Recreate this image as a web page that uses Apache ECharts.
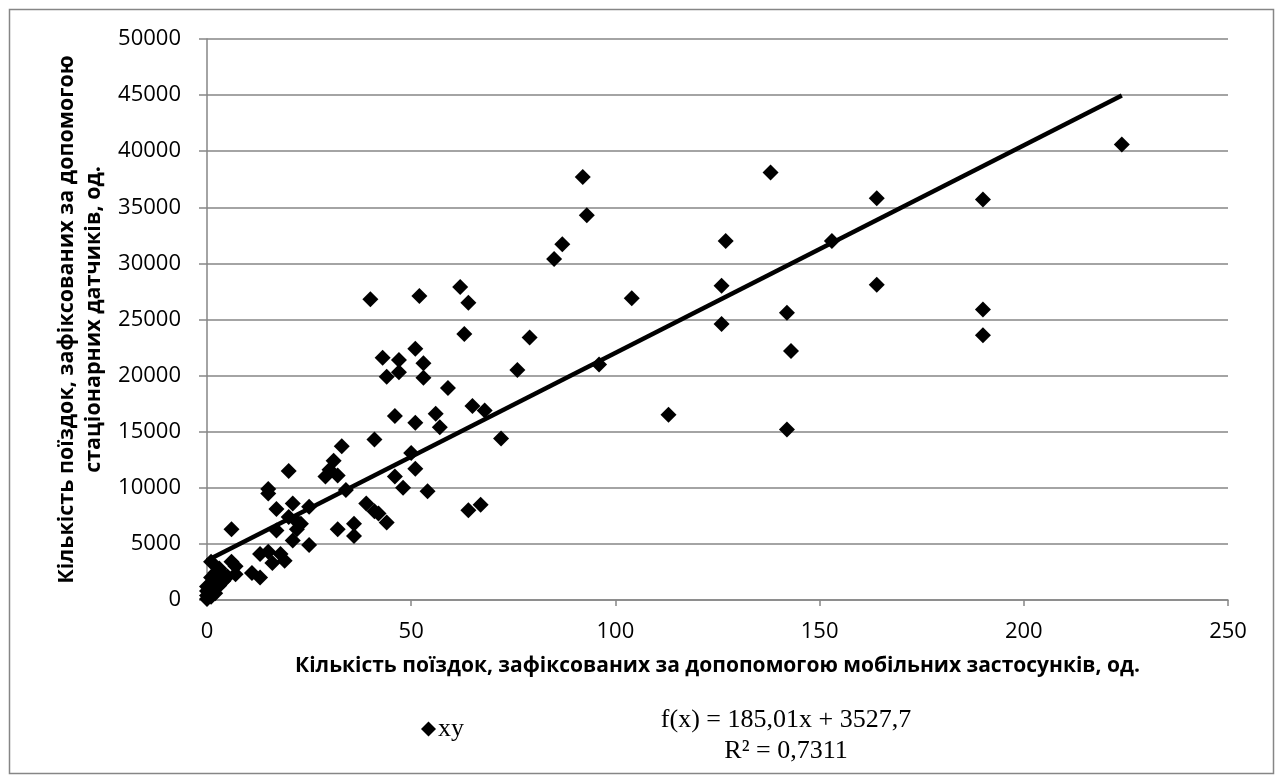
<!DOCTYPE html>
<html>
<head>
<meta charset="utf-8">
<script src="https://cdn.jsdelivr.net/npm/echarts@6/dist/echarts.min.js"></script>
<style>
  html, body { margin: 0; padding: 0; background: #fff; }
  #chart { width: 1283px; height: 780px; }
</style>
</head>
<body>
<div id="chart"></div>
<script>
// trips registered by mobile apps (x) and by stationary counters (y)
const tripsApp = [
  0, 0, 0, 0, 1, 1, 1, 1, 1, 1, 2, 2, 2, 2, 3, 3, 3, 4, 4, 5,
  6, 6, 7, 7, 11, 13, 13, 15, 16, 18, 19, 15, 15, 17, 17, 20, 20, 21, 21, 22,
  22, 23, 25, 25, 29, 30, 31, 32, 32, 33, 34, 36, 36, 39, 40, 41, 41, 42, 43, 44,
  44, 46, 46, 47, 47, 48, 50, 51, 51, 51, 52, 53, 53, 54, 56, 57, 59, 62, 63, 64,
  64, 65, 67, 68, 72, 76, 79, 85, 87, 92, 93, 96, 104, 113, 126, 126, 127, 138, 142, 142,
  143, 153, 164, 164, 190, 190, 190, 224
]
const tripsSensor = [
  100, 400, 800, 1200, 300, 700, 1000, 1500, 2000, 3400, 600, 1100, 1700, 2400, 1300, 2000, 2800, 1700, 2300, 2100,
  3400, 6300, 2300, 3000, 2400, 2000, 4100, 4300, 3300, 4100, 3500, 9900, 9500, 8100, 6200, 11500, 7400, 8600, 5300, 6300,
  7000, 6800, 8300, 4900, 11000, 11600, 12400, 11100, 6300, 13700, 9800, 6800, 5700, 8600, 26800, 14300, 7900, 7700, 21600, 19900,
  6900, 16400, 11000, 21400, 20300, 10000, 13100, 22400, 15800, 11700, 27100, 21100, 19800, 9700, 16600, 15400, 18900, 27900, 23700, 26500,
  8000, 17300, 8500, 16900, 14400, 20500, 23400, 30400, 31700, 37700, 34300, 21000, 26900, 16500, 28000, 24600, 32000, 38100, 25600, 15200,
  22200, 32000, 35800, 28100, 35700, 25900, 23600, 40600
]

// linear trend reported on the chart
const trendSlope = 185.01
const trendIntercept = 3527.7
const trendLabel = 'f(x) = 185,01x + 3527,7'
const r2Label = 'R² = 0,7311'

const xTitle = 'Кількість поїздок, зафіксованих за допопомогою мобільних застосунків, од.'
const yTitle = 'Кількість поїздок, зафіксованих за допомогою\nстаціонарних датчиків, од.'

const points = tripsApp.map((x, i) => [x, tripsSensor[i]])
const xMin = Math.min(...tripsApp)
const xMax = Math.max(...tripsApp)
const trendLine = [
  [xMin, trendSlope * xMin + trendIntercept],
  [xMax, trendSlope * xMax + trendIntercept]
]

const gridColor = '#868686'
const tickFont = { fontFamily: 'Open Sans', fontSize: 22, color: '#000' }
const titleFont = { fontFamily: 'Open Sans', fontSize: 21, fontWeight: 'bold', color: '#000' }

const chart = echarts.init(document.getElementById('chart'))
chart.setOption({
  animation: false,
  backgroundColor: '#fff',
  grid: { left: 207, right: 55, top: 39, bottom: 180 },
  xAxis: {
    type: 'value',
    min: 0,
    max: 250,
    interval: 50,
    name: xTitle,
    nameLocation: 'middle',
    nameGap: 56,
    nameTextStyle: titleFont,
    axisLine: { show: true, lineStyle: { color: gridColor, width: 1.5 } },
    axisTick: { show: true, length: 6, lineStyle: { color: gridColor, width: 1.5 } },
    axisLabel: { ...tickFont, margin: 21 },
    splitLine: { show: false }
  },
  yAxis: {
    type: 'value',
    min: 0,
    max: 50000,
    interval: 5000,
    name: yTitle,
    nameLocation: 'middle',
    nameRotate: 90,
    nameGap: 90,
    nameTextStyle: { ...titleFont, fontSize: 21.5, lineHeight: 27 },
    axisLine: { show: true, lineStyle: { color: gridColor, width: 1.5 } },
    axisTick: { show: true, length: 8, lineStyle: { color: gridColor, width: 1.5 } },
    axisLabel: { ...tickFont, margin: 26, formatter: v => String(v) },
    splitLine: { show: true, lineStyle: { color: gridColor, width: 1.5 } }
  },
  legend: {
    left: 416,
    top: 711,
    data: [{ name: 'xy', icon: 'diamond' }],
    itemWidth: 15,
    itemHeight: 15,
    itemGap: 4,
    textStyle: { fontFamily: 'Liberation Serif', fontSize: 26, color: '#000', padding: [0, 0, 0, -3] }
  },
  graphic: [
    {
      type: 'rect',
      shape: { x: 9.5, y: 9.5, width: 1264, height: 764 },
      style: { fill: 'none', stroke: gridColor, lineWidth: 1.5 },
      silent: true
    },
    {
      type: 'text',
      x: 786,
      y: 705,
      style: {
        text: trendLabel + '\n' + r2Label,
        font: '26px "Liberation Serif"',
        fill: '#000',
        align: 'center',
        verticalAlign: 'top',
        lineHeight: 31
      }
    }
  ],
  series: [
    {
      name: 'xy',
      type: 'scatter',
      symbol: 'diamond',
      symbolSize: 16,
      itemStyle: { color: '#000', opacity: 1 },
      data: points,
      z: 3
    },
    {
      name: 'trend',
      type: 'line',
      data: trendLine,
      showSymbol: false,
      lineStyle: { color: '#000', width: 4.5 },
      z: 4
    }
  ]
})
</script>
</body>
</html>
